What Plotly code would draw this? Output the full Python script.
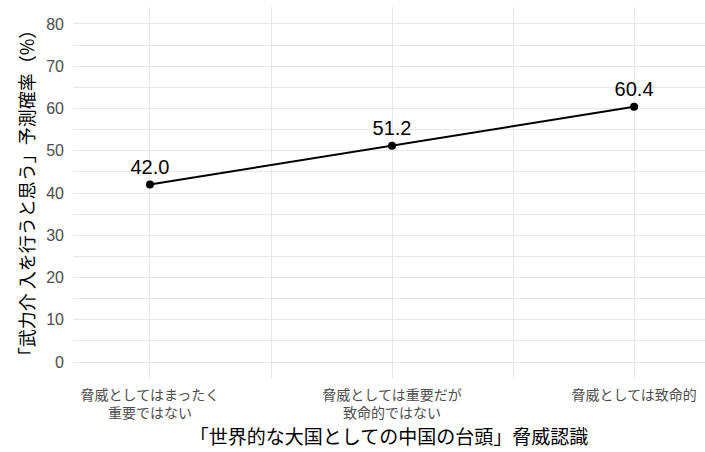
import plotly.graph_objects as go

categories = ["脅威としてはまったく<br>重要ではない", "脅威としては重要だが<br>致命的ではない", "脅威としては致命的"]
values = [42.0, 51.2, 60.4]
labels = ["42.0", "51.2", "60.4"]
y_ticks = [0, 10, 20, 30, 40, 50, 60, 70, 80]

FONT = "Liberation Sans, Noto Sans CJK JP"
xpos = list(range(len(categories)))

fig = go.Figure()
fig.add_trace(go.Scatter(
    x=xpos, y=values, mode="lines+markers+text",
    text=labels, textposition="top center",
    textfont=dict(size=20, color="#000000", family=FONT),
    line=dict(color="#000000", width=2),
    marker=dict(color="#000000", size=8),
    cliponaxis=False, showlegend=False,
))

fig.update_layout(
    width=705, height=452,
    margin=dict(l=73, r=0, t=7, b=73),
    plot_bgcolor="white", paper_bgcolor="white",
    font=dict(family=FONT),
    xaxis=dict(
        range=[-0.318, 2.293], tickvals=xpos, ticktext=categories,
        showgrid=True, gridcolor="#e8e8e8", gridwidth=1.4, zeroline=False,
        tickfont=dict(size=14, color="#4d4d4d", family="Noto Sans CJK JP"),
        minor=dict(tickvals=[0.5, 1.5], showgrid=True, gridcolor="#e8e8e8", gridwidth=1.0),
        title=dict(text="「世界的な大国としての中国の台頭」脅威認識",
                   font=dict(size=19, color="#000000", family="Noto Sans CJK JP"), standoff=4),
        ticks="", ticklen=0, automargin=False, ticklabelstandoff=6,
    ),
    yaxis=dict(
        range=[-4, 84], tickvals=y_ticks,
        showgrid=True, gridcolor="#e8e8e8", gridwidth=1.4, zeroline=False,
        tickfont=dict(size=16, color="#4d4d4d"),
        minor=dict(tick0=5, dtick=10, showgrid=True, gridcolor="#e8e8e8", gridwidth=1.0),
        title=dict(text="「武力介 入を行うと思う」予測確率（%）",
                   font=dict(size=18, color="#000000", family="Noto Sans CJK JP"), standoff=6),
        ticks="", ticklen=0, automargin=False, ticklabelstandoff=8,
    ),
)

fig.write_html("out.html", config={"displayModeBar": False},
               post_script="document.body.style.margin='0';document.body.style.overflow='hidden';")
